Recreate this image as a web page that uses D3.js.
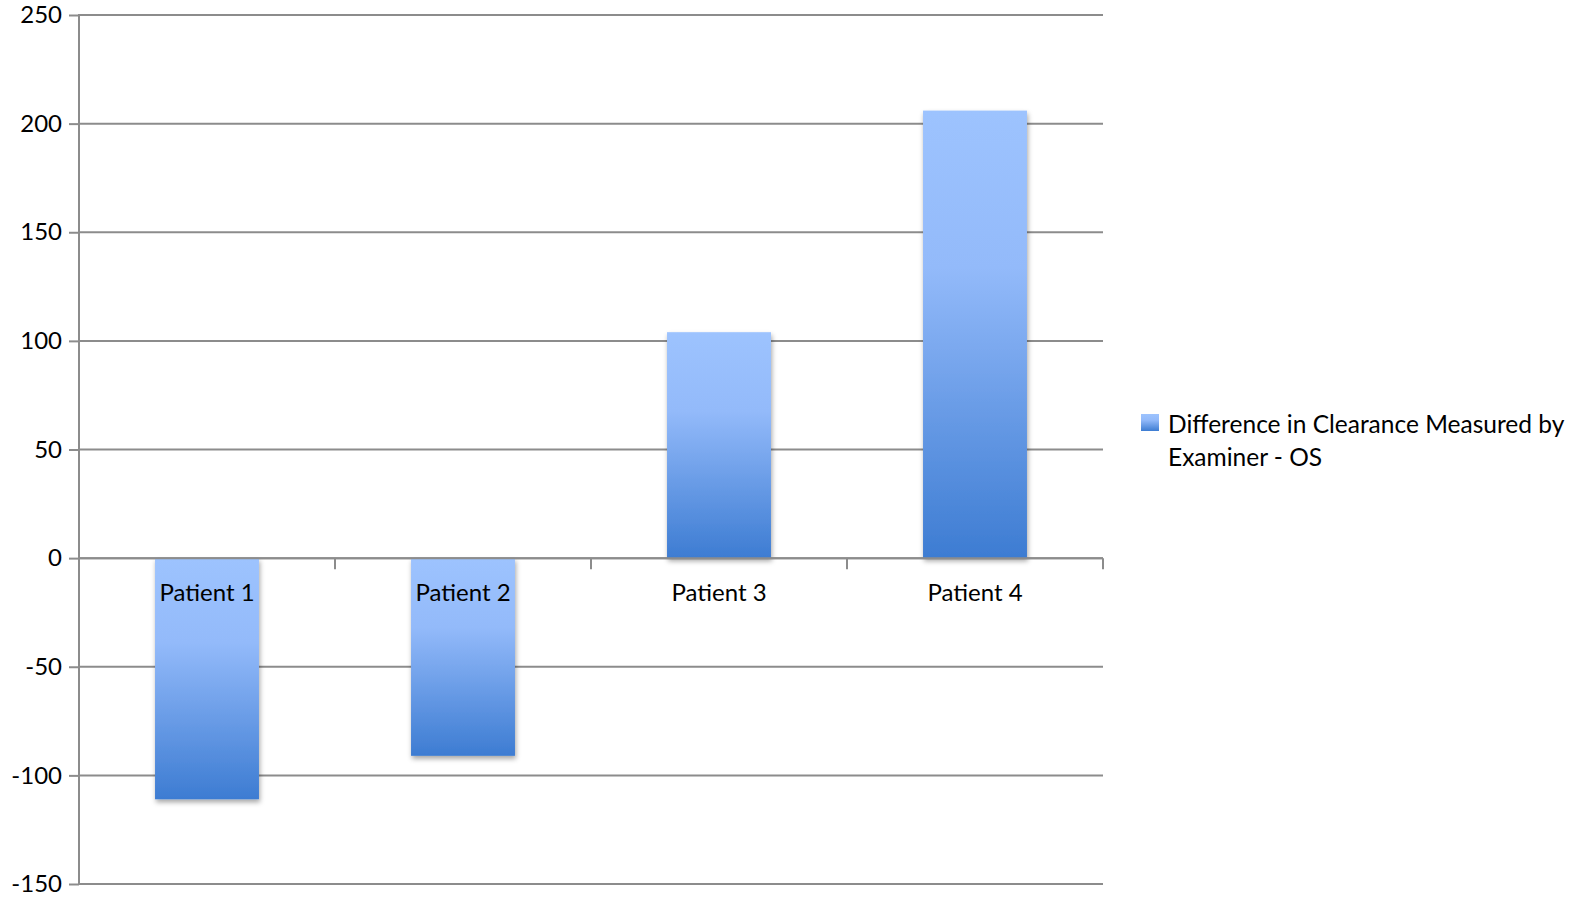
<!DOCTYPE html>
<html>
<head>
<meta charset="utf-8">
<script src="https://cdn.jsdelivr.net/npm/d3@7"></script>
<style>
  html, body { margin: 0; padding: 0; background: #fff; }
  svg { display: block; font-family: Lato, "Open Sans", sans-serif; }
</style>
</head>
<body>
<svg id="chart" width="1578" height="898"></svg>
<script>
// Chart data
const categories = ["Patient 1", "Patient 2", "Patient 3", "Patient 4"];
const values = [-111, -91, 104, 206];
const yTicks = [-150, -100, -50, 0, 50, 100, 150, 200, 250];
const seriesName = ["Difference in Clearance Measured by", "Examiner - OS"];

const svg = d3.select("#chart");
const plot = { left: 79, right: 1103, top: 15, bottom: 884 };

const y = d3.scaleLinear().domain([-150, 250]).range([plot.bottom, plot.top]);
const x = d3.scaleBand().domain(categories).range([plot.left, plot.right])
  .paddingInner(0.594).paddingOuter(0.297);
// band boundaries for category tick marks
const xb = d3.scaleBand().domain(categories).range([plot.left, plot.right]).padding(0);

const defs = svg.append("defs");
const grad = defs.append("linearGradient").attr("id", "barFill")
  .attr("x1", 0).attr("y1", 0).attr("x2", 0).attr("y2", 1);
grad.append("stop").attr("offset", "0%").attr("stop-color", "#9dc3fe");
grad.append("stop").attr("offset", "35%").attr("stop-color", "#93bafa");
grad.append("stop").attr("offset", "100%").attr("stop-color", "#3d7cd2");

const shadow = defs.append("filter").attr("id", "barShadow")
  .attr("x", "-10%").attr("y", "-10%").attr("width", "130%").attr("height", "130%");
shadow.append("feDropShadow").attr("dx", 1).attr("dy", 3)
  .attr("stdDeviation", 2.5).attr("flood-color", "#000").attr("flood-opacity", 0.35);

const gridColor = "#8c8c8c";

// left tick marks and labels (plain hyphen for negatives)
const yAxis = d3.axisLeft(y).tickValues(yTicks).tickSize(10).tickPadding(7)
  .tickFormat(d => String(d));
const gy = svg.append("g").attr("transform", `translate(${plot.left},0)`).call(yAxis);
gy.select(".domain").remove();
gy.selectAll(".tick line").attr("stroke", gridColor).attr("stroke-width", 2);
gy.selectAll(".tick text").attr("font-size", 24).attr("fill", "#000")
  .attr("font-family", "Lato, sans-serif");

// horizontal gridlines
svg.append("g").selectAll("line").data(yTicks).join("line")
  .attr("x1", plot.left).attr("x2", plot.right)
  .attr("y1", d => y(d)).attr("y2", d => y(d))
  .attr("stroke", gridColor).attr("stroke-width", 2);

// vertical value axis line
svg.append("line").attr("x1", plot.left).attr("x2", plot.left)
  .attr("y1", plot.top - 1).attr("y2", plot.bottom + 1)
  .attr("stroke", gridColor).attr("stroke-width", 2);

// bars
svg.append("g").selectAll("rect").data(values).join("rect")
  .attr("x", (d, i) => x(categories[i]))
  .attr("width", x.bandwidth())
  .attr("y", d => y(Math.max(0, d)))
  .attr("height", d => Math.abs(y(d) - y(0)))
  .attr("fill", "url(#barFill)")
  .attr("filter", "url(#barShadow)");

// category axis along zero with tick marks between categories
const bounds = categories.map(c => xb(c)).concat([plot.right]);
svg.append("g").selectAll("line").data(bounds).join("line")
  .attr("x1", d => d).attr("x2", d => d)
  .attr("y1", y(0)).attr("y2", y(0) + 11)
  .attr("stroke", gridColor).attr("stroke-width", 2);
svg.append("line").attr("x1", plot.left).attr("x2", plot.right)
  .attr("y1", y(0)).attr("y2", y(0))
  .attr("stroke", gridColor).attr("stroke-width", 2);

svg.append("g").selectAll("text").data(categories).join("text")
  .attr("x", d => xb(d) + xb.bandwidth() / 2)
  .attr("y", y(0) + 43)
  .attr("text-anchor", "middle")
  .attr("font-size", 24)
  .attr("fill", "#000")
  .text(d => d);

// legend
const lg = svg.append("g").attr("transform", "translate(1141,414)");
lg.append("rect").attr("width", 18).attr("height", 17).attr("fill", "url(#barFill)");
lg.selectAll("text").data(seriesName).join("text")
  .attr("x", 27).attr("y", (d, i) => 19 + i * 33)
  .attr("font-size", 24.5).attr("fill", "#000")
  .text(d => d);
</script>
</body>
</html>
